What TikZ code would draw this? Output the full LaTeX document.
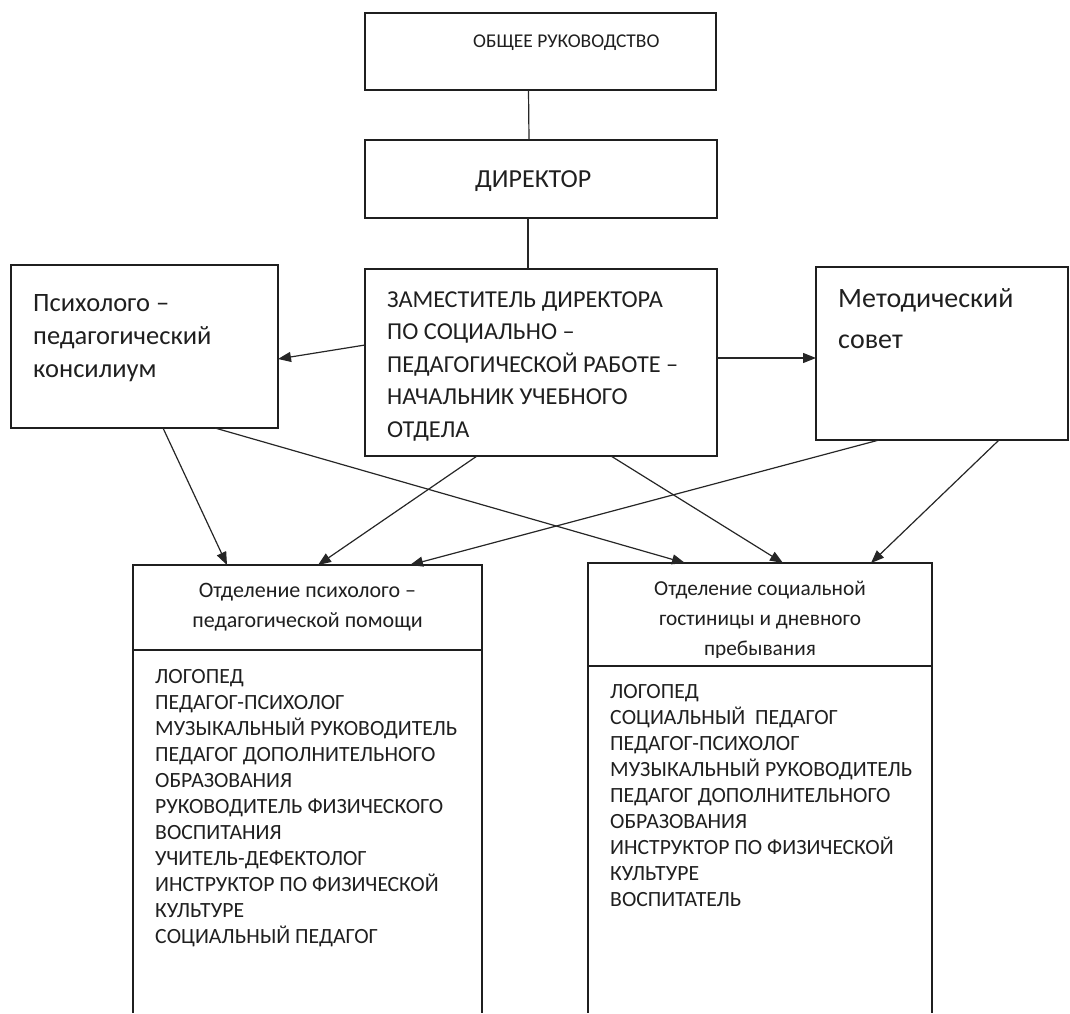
\documentclass[tikz,border=0pt]{standalone}
\usepackage{fontspec}
\setmainfont{Carlito}
\usetikzlibrary{arrows.meta}
\begin{document}
\begin{tikzpicture}[x=1pt,y=-1pt,
  box/.style={draw=black!88, line width=1.5pt, rectangle, inner sep=0pt, outer sep=0pt, anchor=north west},
  txt/.style={anchor=base west, inner sep=0pt, text=black!88},
  ctxt/.style={anchor=base, inner sep=0pt, text=black!88},
  conn/.style={draw=black!85, line width=1.2pt},
  arr/.style={conn, -{Triangle[length=13pt,width=10pt]}}]
\useasboundingbox (0,0) rectangle (1070,1013);
% boxes
\node[box, minimum width=351pt, minimum height=77pt] (top) at (365,13) {};
\node[box, minimum width=352pt, minimum height=78pt] (dir) at (365,140) {};
\node[box, minimum width=352pt, minimum height=187pt] (zam) at (365,269) {};
\node[box, minimum width=267pt, minimum height=163pt] (psy) at (11,265) {};
\node[box, minimum width=252pt, minimum height=173pt] (met) at (816,267) {};
\node[box, minimum width=349pt, minimum height=85pt] (lh) at (133,565) {};
\node[box, minimum width=344pt, minimum height=103pt] (rh) at (588,563) {};
\draw[box] (lh.south west) -- ++(0,363);
\draw[box] (lh.south east) -- ++(0,363);
\draw[box] (rh.south west) -- ++(0,347);
\draw[box] (rh.south east) -- ++(0,347);
% texts
\node[txt, font=\fontsize{19.5}{24}\selectfont] (topt) at (473,47) {ОБЩЕЕ РУКОВОДСТВО};
\node[txt, font=\fontsize{26}{30}\selectfont] (dirt) at (475,187) {ДИРЕКТОР};
\node[txt, font=\fontsize{26.5}{33}\selectfont] (psyt) at (33,311)
  {\begin{tabular}[t]{@{}l@{}}Психолого –\\педагогический\\консилиум\end{tabular}};
\node[txt, font=\fontsize{24.3}{32.5}\selectfont] (zamt) at (387,307)
  {\begin{tabular}[t]{@{}l@{}}ЗАМЕСТИТЕЛЬ ДИРЕКТОРА\\ПО СОЦИАЛЬНО –\\ПЕДАГОГИЧЕСКОЙ РАБОТЕ –\\НАЧАЛЬНИК УЧЕБНОГО\\ОТДЕЛА\end{tabular}};
\node[txt, font=\fontsize{28}{41}\selectfont] (mett) at (838,307)
  {\begin{tabular}[t]{@{}l@{}}Методический\\совет\end{tabular}};
\node[ctxt, font=\fontsize{22}{30}\selectfont] (lht) at (307.5,597)
  {\begin{tabular}[t]{@{}c@{}}Отделение психолого –\\педагогической помощи\end{tabular}};
\begin{scope}
\clip (588,563) rectangle (932,657);
\node[ctxt, font=\fontsize{21.3}{30}\selectfont] (rht) at (760,595)
  {\begin{tabular}[t]{@{}c@{}}Отделение социальной\\гостиницы и дневного\\пребывания\end{tabular}};
\end{scope}
\node[txt, font=\fontsize{21.7}{26}\selectfont] (llist) at (155,683)
  {\begin{tabular}[t]{@{}l@{}}ЛОГОПЕД\\ПЕДАГОГ-ПСИХОЛОГ\\МУЗЫКАЛЬНЫЙ РУКОВОДИТЕЛЬ\\ПЕДАГОГ ДОПОЛНИТЕЛЬНОГО\\ОБРАЗОВАНИЯ\\РУКОВОДИТЕЛЬ ФИЗИЧЕСКОГО\\ВОСПИТАНИЯ\\УЧИТЕЛЬ-ДЕФЕКТОЛОГ\\ИНСТРУКТОР ПО ФИЗИЧЕСКОЙ\\КУЛЬТУРЕ\\СОЦИАЛЬНЫЙ ПЕДАГОГ\end{tabular}};
\node[txt, font=\fontsize{21.7}{26}\selectfont] (rlist) at (610,698)
  {\begin{tabular}[t]{@{}l@{}}ЛОГОПЕД\\СОЦИАЛЬНЫЙ\ \ ПЕДАГОГ\\ПЕДАГОГ-ПСИХОЛОГ\\МУЗЫКАЛЬНЫЙ РУКОВОДИТЕЛЬ\\ПЕДАГОГ ДОПОЛНИТЕЛЬНОГО\\ОБРАЗОВАНИЯ\\ИНСТРУКТОР ПО ФИЗИЧЕСКОЙ\\КУЛЬТУРЕ\\ВОСПИТАТЕЛЬ\end{tabular}};
% connectors
\draw[conn] ([xshift=-12pt]top.south) -- ([xshift=-12pt]dir.north);
\draw[conn] ([xshift=-13pt]dir.south) -- ([xshift=-13pt]zam.north);
\draw[arr] ([yshift=17.5pt]zam.west) -- ([yshift=-12.5pt]psy.east);
\draw[arr] ([yshift=4.5pt]zam.east) -- ([yshift=-4.5pt]met.west);
\draw[arr] ([xshift=18.5pt]psy.south) -- ([xshift=-80.5pt]lh.north);
\draw[arr] ([xshift=70.5pt]psy.south) -- ([xshift=-75pt]rh.north);
\draw[arr] ([xshift=-64pt]zam.south) -- ([xshift=10.5pt]lh.north);
\draw[arr] ([xshift=70pt]zam.south) -- ([xshift=23pt]rh.north);
\draw[arr] ([xshift=-63pt]met.south) -- ([xshift=102.5pt]lh.north);
\draw[arr] ([xshift=57pt]met.south) -- ([xshift=111pt]rh.north);
\end{tikzpicture}
\end{document}
